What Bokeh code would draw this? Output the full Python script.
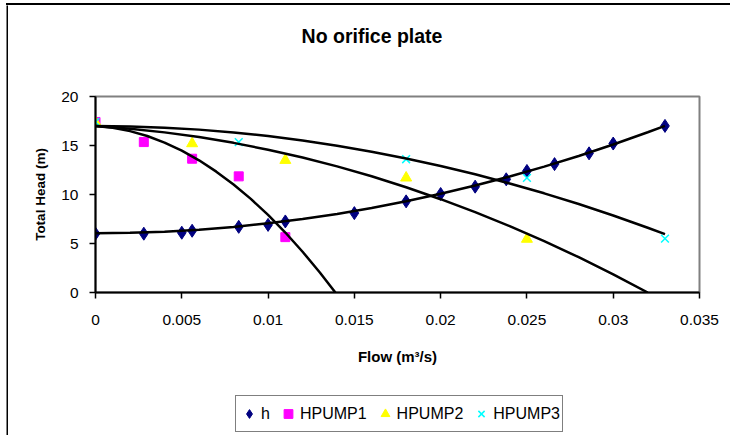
from bokeh.plotting import figure
from bokeh.layouts import column, row
from bokeh.models import (Range1d, FixedTicker, NumeralTickFormatter, Legend,
                          LegendItem, Label, Spacer, Div)
from bokeh.embed import file_html
from bokeh.resources import INLINE

# ---- data ----
x_ticks = [0, 0.005, 0.01, 0.015, 0.02, 0.025, 0.03, 0.035]
y_ticks = [0, 5, 10, 15, 20]

q_h = [0, 0.0028, 0.005, 0.0056, 0.0083, 0.010, 0.011, 0.015, 0.018, 0.020,
       0.022, 0.0238, 0.025, 0.0266, 0.0286, 0.030, 0.033]
h_vals = [6.0, 6.0, 6.1, 6.3, 6.7, 6.9, 7.25, 8.1, 9.3, 10.05, 10.8, 11.55,
          12.4, 13.1, 14.2, 15.2, 17.0]

q_p1 = [0, 0.0028, 0.0056, 0.0083, 0.011]
hp1 = [17.4, 15.35, 13.65, 11.85, 5.65]
q_p2 = [0, 0.0056, 0.011, 0.018, 0.025]
hp2 = [17.35, 15.2, 13.5, 11.7, 5.45]
q_p3 = [0, 0.0083, 0.018, 0.025, 0.033]
hp3 = [17.4, 15.35, 13.6, 11.7, 5.5]

# trend lines
tq_p1 = [0, 0.001, 0.002, 0.003, 0.004, 0.005, 0.006, 0.007, 0.008, 0.009,
         0.010, 0.011, 0.012, 0.013, 0.0139]
th_p1 = [17.0, 16.82, 16.47, 15.97, 15.30, 14.47, 13.49, 12.33, 11.02, 9.55,
         7.92, 6.12, 4.16, 2.04, 0.0]
tq_p2 = [0, 0.002, 0.004, 0.006, 0.008, 0.010, 0.012, 0.014, 0.016, 0.018,
         0.020, 0.022, 0.024, 0.026, 0.028, 0.030, 0.032]
th_p2 = [17.0, 16.72, 16.34, 15.86, 15.27, 14.57, 13.77, 12.87, 11.86, 10.74,
         9.52, 8.20, 6.77, 5.24, 3.60, 1.85, 0.0]
tq_p3 = [0, 0.002, 0.004, 0.006, 0.008, 0.010, 0.012, 0.014, 0.016, 0.018,
         0.020, 0.022, 0.024, 0.026, 0.028, 0.030, 0.032, 0.033]
th_p3 = [17.0, 16.95, 16.82, 16.62, 16.33, 15.96, 15.51, 14.98, 14.37, 13.68,
         12.91, 12.06, 11.13, 10.12, 9.03, 7.86, 6.61, 5.95]
tq_h = [0, 0.002, 0.004, 0.006, 0.008, 0.010, 0.012, 0.014, 0.016, 0.018,
        0.020, 0.022, 0.024, 0.026, 0.028, 0.030, 0.032, 0.033]
th_h = [6.05, 6.09, 6.21, 6.41, 6.69, 7.06, 7.50, 8.02, 8.62, 9.31,
        10.07, 10.91, 11.84, 12.84, 13.93, 15.10, 16.35, 17.0]

series_names = ["h", "HPUMP1", "HPUMP2", "HPUMP3"]
chart_title = "No orifice plate"

FONT = "Liberation Sans"
STYLES = [dict(marker="diamond", size=13, fill_color="#000080", line_color="#000080"),
          dict(marker="square", size=9, fill_color="#FF00FF", line_color="#FF00FF"),
          dict(marker="triangle", size=11, fill_color="#FFFF00", line_color="#FFFF00"),
          dict(marker="x", size=11, line_color="#00FFFF", line_width=1.5)]

W = 720
ML, MR = 87, 29


def strip(width, height, color="white", **kw):
    f = figure(width=width, height=height, output_backend="svg",
               toolbar_location=None, title=None, x_axis_location=None,
               y_axis_location=None, **kw)
    f.grid.visible = False
    f.outline_line_color = None
    f.background_fill_color = color
    f.border_fill_color = color
    return f


# ---- title strip ----
p0 = strip(W, 50, min_border_left=ML, min_border_right=MR, min_border_top=0,
           min_border_bottom=0, x_range=Range1d(0, W - ML - MR),
           y_range=Range1d(0, 50))
p0.add_layout(Label(x=276.5, y=20, text=chart_title, text_align="center",
                    text_baseline="middle", text_font=FONT,
                    text_font_size="19.5px", text_font_style="bold",
                    text_color="black"))

# ---- main chart ----
p = figure(width=W, height=330, output_backend="svg", toolbar_location=None,
           title=None, x_range=Range1d(0, 0.035), y_range=Range1d(0, 20),
           min_border_left=ML, min_border_right=MR, min_border_top=41,
           min_border_bottom=93)
p.grid.visible = False
p.outline_line_color = "#808080"
p.outline_line_width = 2
p.background_fill_color = "white"
p.border_fill_color = "white"

for ax in (p.xaxis[0], p.yaxis[0]):
    ax.axis_line_color = "black"
    ax.axis_line_width = 2
    ax.major_tick_line_color = "black"
    ax.major_tick_line_width = 1.5
    ax.major_tick_out = 6
    ax.major_tick_in = 0
    ax.minor_tick_line_color = None
    ax.major_label_text_font = FONT
    ax.major_label_text_font_size = "15.5px"
    ax.major_label_text_color = "black"
    ax.axis_label_text_font = FONT
    ax.axis_label_text_font_style = "bold"
    ax.axis_label_text_color = "black"

p.xaxis.axis_label_text_font_size = "15px"
p.yaxis.axis_label_text_font_size = "13.5px"
p.xaxis.ticker = FixedTicker(ticks=x_ticks)
p.yaxis.ticker = FixedTicker(ticks=y_ticks)
p.xaxis.formatter = NumeralTickFormatter(format="0.[000]")
p.xaxis.axis_label = "Flow (m³/s)"
p.yaxis.axis_label = "Total Head (m)"
p.xaxis.major_label_standoff = 16
p.yaxis.major_label_standoff = 11
p.xaxis.axis_label_standoff = 20
p.yaxis.axis_label_standoff = 10

data = [(q_h, h_vals), (q_p1, hp1), (q_p2, hp2), (q_p3, hp3)]
for (qx, hy), st in zip(data, STYLES):
    p.scatter(qx, hy, **st)

for tq, th in ((tq_h, th_h), (tq_p1, th_p1), (tq_p2, th_p2), (tq_p3, th_p3)):
    p.line(tq, th, line_color="black", line_width=2.5)

# ---- legend strip ----
p2 = strip(W, 50, min_border_left=ML, min_border_right=MR, min_border_top=0,
           min_border_bottom=0, x_range=Range1d(0, 1),
           y_range=Range1d(100, 101))
# legend glyph carriers (same series; out of this strip's view)
carriers = [p2.scatter(qx, hy, **st) for (qx, hy), st in zip(data, STYLES)]

legend = Legend(items=[LegendItem(label=n, renderers=[r])
                       for n, r in zip(series_names, carriers)],
                orientation="horizontal", location=(140, 3))
legend.label_text_font = FONT
legend.label_text_font_size = "16px"
legend.label_text_color = "black"
legend.border_line_color = "black"
legend.border_line_width = 1
legend.background_fill_alpha = 1
legend.padding = 2
legend.spacing = 7
legend.label_standoff = 1
legend.label_width = 0
legend.glyph_width = 22
legend.glyph_height = 31
legend.margin = 0
p2.add_layout(legend)

# ---- outer chart frame (left and top edges) ----
top_bar = Div(text="", width=W + 4, height=2, margin=0,
              styles={"background-color": "black"})
left_bar = strip(2, 430, color="black", min_border=0)

body = column(p0, p, p2, spacing=0)
layout = column(Spacer(height=3),
                row(Spacer(width=6),
                    column(top_bar, row(left_bar, body, spacing=0), spacing=0),
                    spacing=0),
                spacing=0)

open("out.html", "w").write(file_html(layout, INLINE))
